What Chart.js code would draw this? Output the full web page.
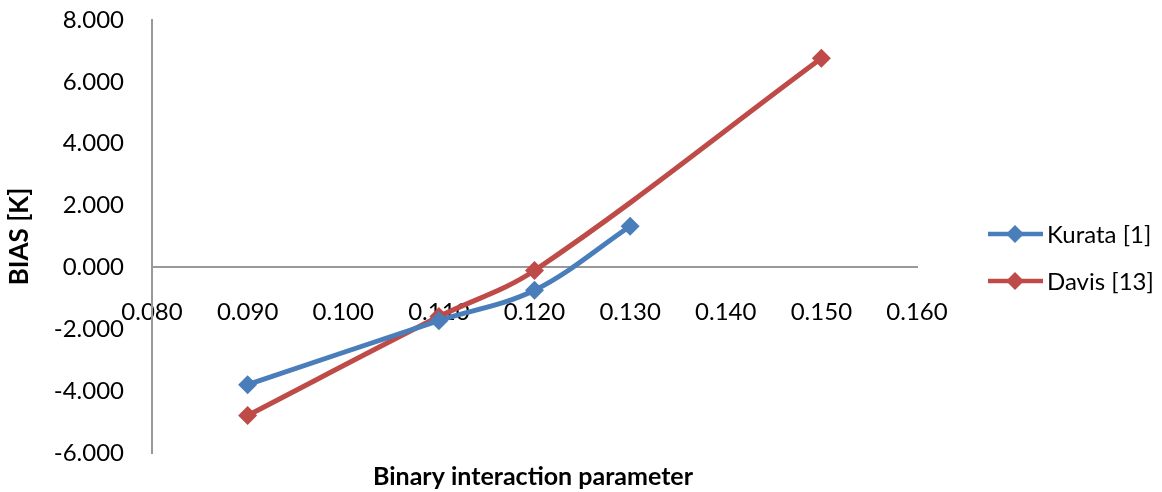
<!DOCTYPE html>
<html>
<head>
<meta charset="utf-8">
<script src="https://cdn.jsdelivr.net/npm/chart.js@4/dist/chart.umd.min.js"></script>
<style>
  html, body { margin: 0; padding: 0; background: #ffffff; }
  #wrap { width: 1162px; height: 492px; }
</style>
</head>
<body>
<div id="wrap"><canvas id="c" width="1162" height="492"></canvas></div>
<script>
// Binary interaction parameter vs. BIAS for the two data sources
const kurataX = [0.090, 0.110, 0.120, 0.130];
const kurataBias = [-3.79, -1.72, -0.74, 1.33];
const davisX = [0.090, 0.110, 0.120, 0.150];
const davisBias = [-4.79, -1.59, -0.10, 6.76];
const seriesNames = ['Kurata [1]', 'Davis [13]'];
const seriesColors = ['#4A7EBB', '#BE4B48'];
const xTitle = 'Binary interaction parameter';
const yTitle = 'BIAS [K]';

const FONT = 'Lato, "Open Sans", sans-serif';

function pts(xs, ys) { return xs.map((x, i) => ({ x: x, y: ys[i] })); }

// Draws the x-axis title at the bottom and a line+marker legend on the right
const extras = {
  id: 'extras',
  afterDraw(chart) {
    const ctx = chart.ctx;
    ctx.save();
    ctx.fillStyle = '#000';
    ctx.font = 'bold 25px ' + FONT;
    ctx.textAlign = 'center';
    ctx.textBaseline = 'middle';
    ctx.fillText(xTitle, 533, 477);

    ctx.font = '24px ' + FONT;
    ctx.textAlign = 'left';
    chart.data.datasets.forEach((ds, i) => {
      const y = 234 + i * 47;
      ctx.strokeStyle = ds.borderColor;
      ctx.lineWidth = 4.5;
      ctx.beginPath();
      ctx.moveTo(988, y);
      ctx.lineTo(1043, y);
      ctx.stroke();
      ctx.fillStyle = ds.pointBackgroundColor;
      ctx.beginPath();
      ctx.moveTo(1015, y - 9);
      ctx.lineTo(1024, y);
      ctx.lineTo(1015, y + 9);
      ctx.lineTo(1006, y);
      ctx.closePath();
      ctx.fill();
      ctx.fillStyle = '#000';
      ctx.fillText(ds.label, 1047, y + 1);
    });
    ctx.restore();
  }
};

new Chart(document.getElementById('c'), {
  type: 'line',
  data: {
    datasets: [
      {
        label: seriesNames[0],
        data: pts(kurataX, kurataBias),
        borderColor: seriesColors[0],
        backgroundColor: seriesColors[0],
        pointBackgroundColor: seriesColors[0],
        pointBorderColor: seriesColors[0],
        borderWidth: 5,
        pointStyle: 'rectRot',
        pointRadius: 9.5,
        pointBorderWidth: 0,
        tension: 0.35,
        fill: false
      },
      {
        label: seriesNames[1],
        data: pts(davisX, davisBias),
        borderColor: seriesColors[1],
        backgroundColor: seriesColors[1],
        pointBackgroundColor: seriesColors[1],
        pointBorderColor: seriesColors[1],
        borderWidth: 5,
        pointStyle: 'rectRot',
        pointRadius: 9.5,
        pointBorderWidth: 0,
        tension: 0.35,
        fill: false
      }
    ]
  },
  options: {
    responsive: false,
    animation: false,
    layout: { padding: { left: 4, right: 245, top: 20, bottom: 39 } },
    plugins: {
      legend: { display: false },
      tooltip: { enabled: false }
    },
    scales: {
      x: {
        type: 'linear',
        position: { y: 0 },
        min: 0.08,
        max: 0.16,
        ticks: {
          stepSize: 0.01,
          padding: 30,
          color: '#000',
          font: { family: FONT, size: 24 },
          maxRotation: 0,
          autoSkip: false,
          callback: v => v.toFixed(3)
        },
        grid: { display: false, drawTicks: false },
        border: { display: true, color: '#999999', width: 2 },
        afterFit(scale) { scale.height = 0; scale.paddingTop = 0; scale.paddingBottom = 0; }
      },
      y: {
        min: -6,
        max: 8,
        ticks: {
          stepSize: 2,
          padding: 28,
          color: '#000',
          font: { family: FONT, size: 24 },
          callback: v => v.toFixed(3)
        },
        title: {
          display: true,
          text: yTitle,
          color: '#000',
          font: { family: FONT, size: 26, weight: 'bold' },
          padding: { top: 0, bottom: 0 }
        },
        grid: { display: false, drawTicks: false },
        border: { display: true, color: '#999999', width: 2 },
        afterFit(scale) { scale.width = 148; scale.paddingTop = 0; scale.paddingBottom = 0; }
      }
    }
  },
  plugins: [extras]
});
</script>
</body>
</html>
